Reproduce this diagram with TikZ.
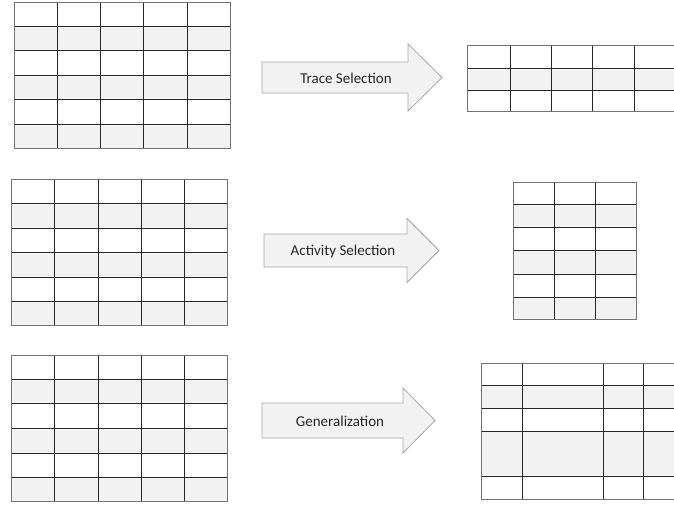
\documentclass[tikz,border=0pt]{standalone}
\usepackage{fontspec}
\setmainfont{Carlito}
\definecolor{rowgray}{HTML}{F2F2F2}
\newcommand\gridtab[7]{%
  \foreach \p/\q in {#7} \fill[rowgray] (#1,\p) rectangle (#2,\q);
  \foreach \v in {#5} \draw[cellline] (\v,#3) -- (\v,#4);
  \foreach \h in {#6} \draw[cellline] (#1,\h) -- (#2,\h);
  \draw[outerline] (#1,#3) rectangle (#2,#4);
}
\begin{document}
\begin{tikzpicture}[x=1pt,y=-1pt,
  cellline/.style={draw=black!85, line width=0.9pt},
  outerline/.style={draw=black!55, line width=1.0pt},
  bigarrow/.style={fill=rowgray, draw=black!35, line width=0.8pt, line join=miter},
  lbl/.style={font=\fontsize{15}{17}\selectfont, text=black!85, inner sep=0pt}]
\useasboundingbox (0,0) rectangle (674,504);
\clip (0,0) rectangle (674,504);
% left tables
\gridtab{14}{230}{2}{148}{57.5,100.5,143.5,187}{26,50.5,75,99.5,124}{26/50.5,75/99.5,124/148}
\gridtab{11}{227}{179}{325}{54,98,141,184}{203,228,252,277,301}{203/228,252/277,301/325}
\gridtab{11}{227}{355}{501}{54,98,141,184}{379,403,428,453,477}{379/403,428/453,477/501}
% right tables
\gridtab{467}{676}{45}{111}{510,551,592,634}{68,90}{68/90}
\gridtab{513}{636}{182}{319}{554,595}{204,227,250,274,297}{204/227,250/274,297/319}
\gridtab{481}{684}{363}{499}{522,603,643}{385,408,431,476}{385/408,431/476}
% arrows
\draw[bigarrow] (262,62) -- (408,62) -- (408,44) -- (442,77.5) -- (408,111) -- (408,93) -- (262,93) -- cycle;
\draw[bigarrow] (264,234) -- (407,234) -- (407,218.5) -- (439,250.5) -- (407,282.5) -- (407,267) -- (264,267) -- cycle;
\draw[bigarrow] (262,403) -- (403,403) -- (403,388) -- (435,420.5) -- (403,453) -- (403,438) -- (262,438) -- cycle;
\node[lbl] (trace) at (346,78) {Trace Selection};
\node[lbl] (activity) at (343,251) {Activity Selection};
\node[lbl] (gen) at (340,421) {Generalization};
\end{tikzpicture}
\end{document}
